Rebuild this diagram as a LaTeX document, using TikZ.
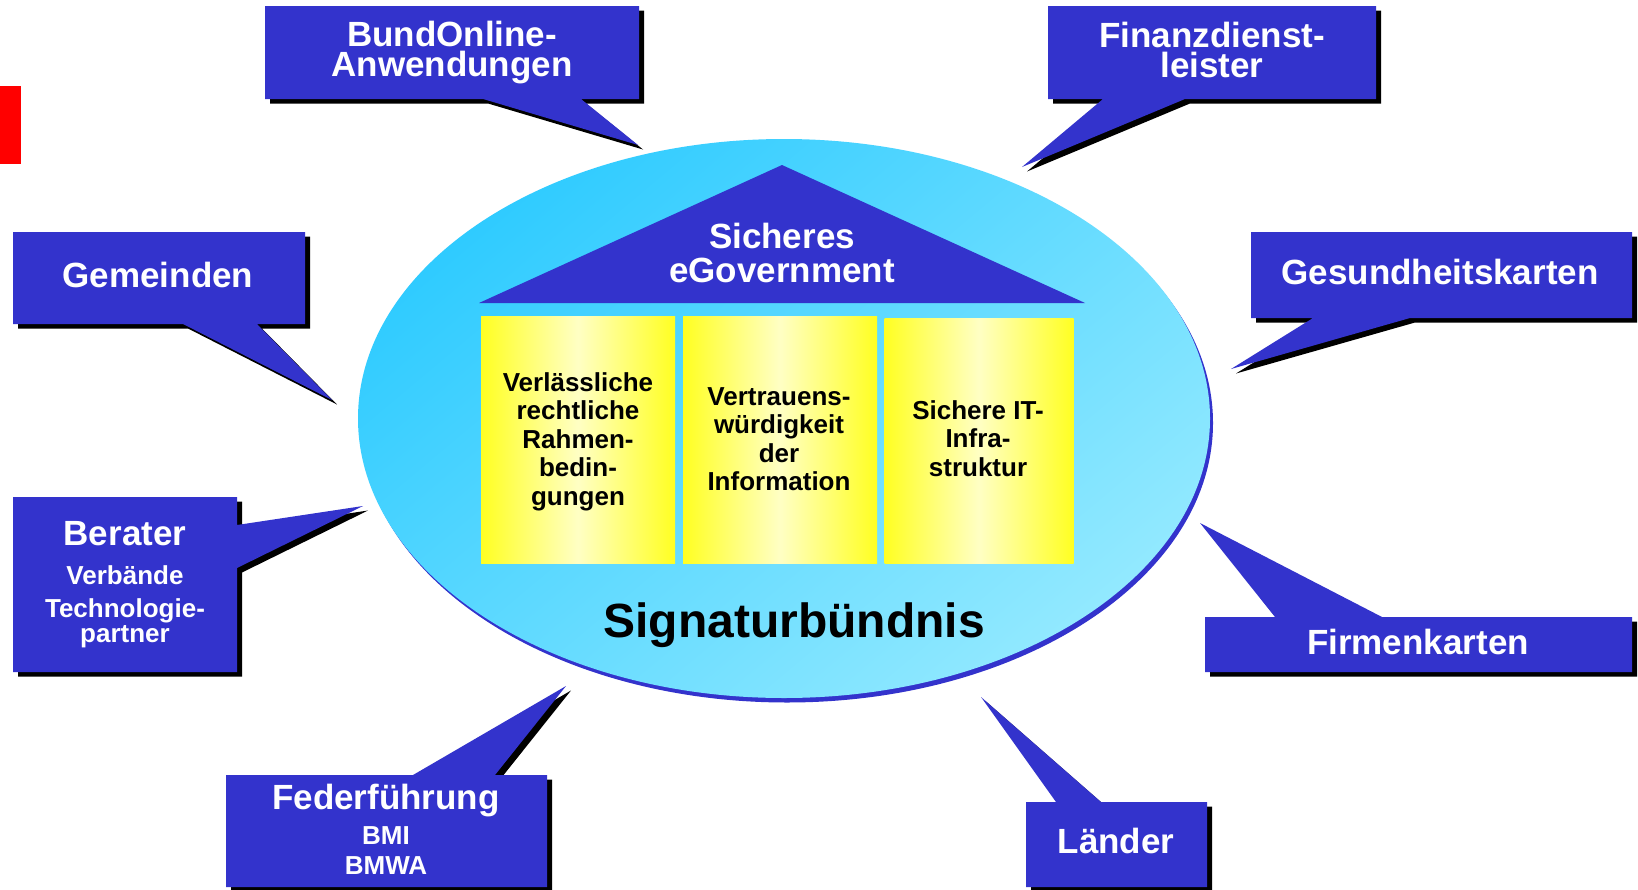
\documentclass[tikz,border=0pt]{standalone}
\usepackage{fontspec}
\setmainfont{Liberation Sans}
\definecolor{boxblue}{HTML}{3333CC}
\definecolor{cyanA}{HTML}{2FCBFF}
\definecolor{cyanB}{HTML}{92E9FF}
\definecolor{pillY}{HTML}{FFFF22}
\definecolor{pillP}{HTML}{FFFFC4}
\newcommand\sgcallout[1]{\fill[black,shift={(5,4.5)}] #1; \fill[boxblue] #1;}
\begin{document}
\begin{tikzpicture}[x=0.5pt,y=-0.5pt,
  big/.style={font=\bfseries\fontsize{17.5}{17.5}\selectfont, text=white, anchor=base, inner sep=0pt},
  bigtwo/.style={font=\bfseries\fontsize{17.5}{14.75}\selectfont, text=white, anchor=base, inner sep=0pt, align=center},
  small/.style={font=\bfseries\fontsize{13}{13}\selectfont, text=white, anchor=base, inner sep=0pt},
  pill/.style={font=\bfseries\fontsize{13}{13}\selectfont, text=black, anchor=base, inner sep=0pt},
  pillar/.style={left color=pillY, right color=pillY, middle color=pillP},
  sig/.style={font=\bfseries\fontsize{24}{24}\selectfont, text=black, anchor=base, inner sep=0pt}]
\useasboundingbox (0,0) rectangle (1638,889);
\fill[white] (0,0) rectangle (1638,889);
% red bar
\fill[red] (0,86) rectangle (21,164);
% ellipse with rim
\fill[boxblue] (787,423) ellipse [x radius=426, y radius=279.5];
\shade[top color=cyanA, bottom color=cyanB, shading angle=40] (784,418.5) ellipse [x radius=426, y radius=279.5];
% roof
\fill[boxblue] (782,165) -- (1085,303) -- (479,303) -- cycle;
\node[big] (roof1) at (782,248) {Sicheres};
\node[big] (roof2) at (782,282) {eGovernment};
% pillars
\shade[pillar] (481,316) rectangle (675,563);
\shade[pillar] (683,316) rectangle (877,563);
\shade[pillar] (884.5,318) rectangle (1073.5,563);
\node[pill] (p1a) at (578,391) {Verlässliche};
\node[pill] (p1b) at (578,419.5) {rechtliche};
\node[pill] (p1c) at (578,448) {Rahmen-};
\node[pill] (p1d) at (578,476.5) {bedin-};
\node[pill] (p1e) at (578,505) {gungen};
\node[pill] (p2a) at (779,405) {Vertrauens-};
\node[pill] (p2b) at (779,433.5) {würdigkeit};
\node[pill] (p2c) at (779,462) {der};
\node[pill] (p2d) at (779,490.5) {Information};
\node[pill] (p3a) at (978,419) {Sichere IT-};
\node[pill] (p3b) at (978,447.5) {Infra-};
\node[pill] (p3c) at (978,476) {struktur};
\node[sig] (sig) at (794,637) {Signaturbündnis};
% callouts
\sgcallout{(265,6) -- (639,6) -- (639,99) -- (581,99) -- (638,145) -- (483,99) -- (265,99) -- cycle}
\node[bigtwo] (bund) at (452,76) {BundOnline-\\Anwendungen};
\sgcallout{(1048,6) -- (1376,6) -- (1376,99) -- (1185,99) -- (1022,167) -- (1103,99) -- (1048,99) -- cycle}
\node[bigtwo] (fin) at (1212,77) {Finanzdienst-\\leister};
\sgcallout{(13,232) -- (305,232) -- (305,324) -- (257,324) -- (332,400) -- (183,324) -- (13,324) -- cycle}
\node[big] (gem) at (158,287) {Gemeinden};
\sgcallout{(13,497) -- (237,497) -- (237,525) -- (363,506) -- (237,568) -- (237,672) -- (13,672) -- cycle}
\node[big] (ber1) at (125,545) {Berater};
\node[small] (ber2) at (125,584) {Verbände};
\node[small] (ber3) at (125,617) {Technologie-};
\node[small] (ber4) at (125,642) {partner};
\sgcallout{(226,775) -- (413,775) -- (566,686) -- (495,775) -- (547,775) -- (547,887) -- (226,887) -- cycle}
\node[big] (fed1) at (386,809) {Federführung};
\node[small] (fed2) at (386,844) {BMI};
\node[small] (fed3) at (386,874) {BMWA};
\sgcallout{(1026,802) -- (1056,802) -- (981,697) -- (1101,802) -- (1207,802) -- (1207,887) -- (1026,887) -- cycle}
\node[big] (lae) at (1116,853) {Länder};
\sgcallout{(1251,232) -- (1632,232) -- (1632,318) -- (1410,318) -- (1231,369) -- (1313,318) -- (1251,318) -- cycle}
\node[big] (ges) at (1440,284) {Gesundheitskarten};
\sgcallout{(1205,617) -- (1275,617) -- (1200,523) -- (1382,617) -- (1632,617) -- (1632,672) -- (1205,672) -- cycle}
\node[big] (firm) at (1418,654) {Firmenkarten};
\end{tikzpicture}
\end{document}
